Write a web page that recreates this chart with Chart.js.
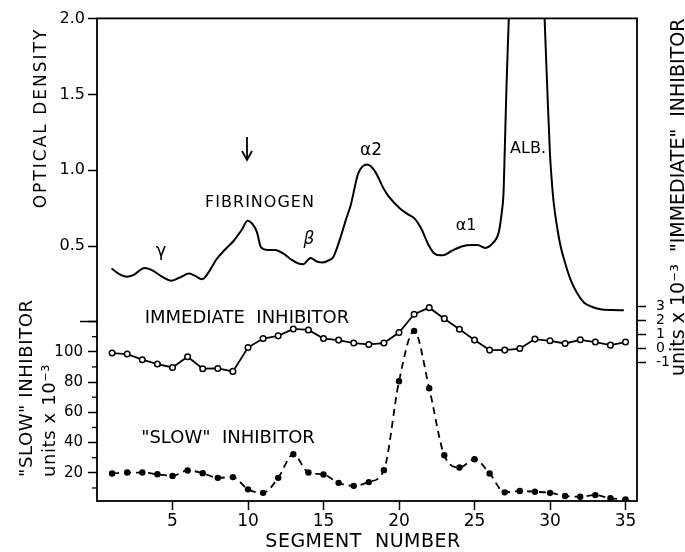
<!DOCTYPE html>
<html><head><meta charset="utf-8">
<script src="https://cdn.jsdelivr.net/npm/chart.js@4/dist/chart.umd.min.js"></script>
<style>html,body{margin:0;padding:0;background:#fff}</style>
</head><body>
<canvas id="c" width="685" height="552"></canvas>
<script>
// ---- data ----
const segments = [1,2,3,4,5,6,7,8,9,10,11,12,13,14,15,16,17,18,19,20,21,22,23,24,25,26,27,28,29,30,31,32,33,34,35];
const immediateInhibitor = [-0.31,-0.38,-0.78,-1.09,-1.33,-0.57,-1.42,-1.40,-1.61,0.08,0.72,0.91,1.40,1.33,0.72,0.61,0.40,0.30,0.40,1.14,2.44,2.91,2.13,1.38,0.61,-0.10,-0.10,0.01,0.68,0.56,0.37,0.63,0.47,0.25,0.47];
const slowInhibitor = [19.6,20.2,20.2,19.1,18.0,21.6,19.8,16.7,17.2,9.1,6.8,16.7,32.3,20.2,18.9,13.4,11.4,13.9,21.8,80.5,113.8,75.9,31.6,23.5,29.0,19.6,7.1,8.0,7.5,6.8,4.7,4.2,5.3,3.2,2.5];
const odSegment = [0.96,1.5,1.95,2.4,3.15,3.7,4.3,4.95,5.5,6.1,6.5,6.95,7.4,7.9,8.5,9.07,9.6,9.97,10.3,10.6,10.85,11.28,11.8,12.4,12.9,13.3,13.65,14.14,14.55,14.95,15.4,15.65,16.1,16.5,16.8,17.3,17.9,18.4,18.95,19.3,20.1,20.6,21.05,21.5,21.95,22.3,22.7,23.0,23.45,24.2,24.8,25.2,25.7,26.25,26.6,26.8,26.92,27.0,27.12,27.27,27.5,28.45,29.4,29.64,29.81,29.99,30.1,30.25,30.48,30.7,31.0,31.36,31.8,32.24,32.8,33.34,34.1,34.89];
const opticalDensity = [0.354,0.315,0.30,0.31,0.357,0.34,0.30,0.273,0.295,0.32,0.305,0.282,0.33,0.413,0.48,0.538,0.61,0.668,0.645,0.59,0.495,0.476,0.475,0.448,0.41,0.388,0.382,0.423,0.40,0.393,0.41,0.43,0.55,0.68,0.77,0.98,1.039,0.995,0.885,0.83,0.745,0.71,0.68,0.61,0.51,0.456,0.441,0.443,0.467,0.50,0.508,0.508,0.489,0.525,0.59,0.72,0.85,1.12,1.56,2.0,2.7,4.5,2.7,2.0,1.56,1.12,0.95,0.78,0.62,0.50,0.39,0.28,0.19,0.13,0.10,0.085,0.08,0.079];
const segmentTicks = [5,10,15,20,25,30,35];
const odTicks = [0.5,1.0,1.5,2.0];
const slowTicks = [20,40,60,80,100,120];
const slowMinorTicks = [10,30,50,70,90,110];
const immTicks = [-1,0,1,2,3];

const FONT = '"DejaVu Sans", sans-serif';
const INK = '#000';

const odData = odSegment.map((x, i) => ({x, y: opticalDensity[i]}));
const immData = segments.map((x, i) => ({x, y: immediateInhibitor[i]}));
const slowData = segments.map((x, i) => ({x, y: slowInhibitor[i]}));

const tickGrid = {drawOnChartArea:false, drawTicks:true, tickLength:9, tickWidth:1.5, tickColor:INK};

// slow labels are padded with figure spaces to a common width, so left alignment equals right alignment
const slowFontSize = 15;
const slowLabelGap = 14; // distance from axis line to right edge of slow labels
function slowLabel(v) {
  if (v === 120) return '';
  const s = String(v);
  return '\u2007'.repeat(3 - s.length) + s;
}
function slowLabelWidth() {
  const c = document.createElement('canvas').getContext('2d');
  c.font = slowFontSize + 'px ' + FONT;
  return c.measureText('100').width;
}

const decor = {
  id: 'decor',
  afterDraw(chart) {
    const ctx = chart.ctx, ca = chart.chartArea;
    ctx.save();
    ctx.strokeStyle = INK; ctx.lineWidth = 1.8;
    ctx.strokeRect(ca.left, ca.top, ca.right - ca.left, ca.bottom - ca.top);
    // minor ticks on slow axis
    const ys = chart.scales.ySlow;
    ctx.lineWidth = 1.3;
    slowMinorTicks.forEach(v => {
      const y = ys.getPixelForValue(v);
      ctx.beginPath(); ctx.moveTo(ca.left - 5, y); ctx.lineTo(ca.left, y); ctx.stroke();
    });
    const yTop = ys.getPixelForValue(slowTicks[slowTicks.length - 1]);
    ctx.lineWidth = 1.5;
    ctx.beginPath(); ctx.moveTo(ca.left - 17, yTop); ctx.lineTo(ca.left, yTop); ctx.stroke();
    // arrow
    ctx.lineWidth = 1.8;
    ctx.beginPath(); ctx.moveTo(247, 137); ctx.lineTo(247, 160); ctx.stroke();
    ctx.beginPath(); ctx.moveTo(242, 151); ctx.lineTo(247, 160); ctx.lineTo(252, 151); ctx.stroke();

    ctx.fillStyle = INK;
    function txt(s, x, y, size, o) {
      o = o || {};
      ctx.save();
      ctx.font = (o.italic ? 'italic ' : '') + size + 'px ' + FONT;
      ctx.textAlign = o.align || 'center';
      ctx.textBaseline = 'alphabetic';
      try { ctx.letterSpacing = (o.sp || 0) + 'px'; } catch (e) {}
      ctx.translate(x, y);
      if (o.rot) ctx.rotate(-Math.PI / 2);
      ctx.fillText(s, 0, 0);
      ctx.restore();
    }
    // axis titles
    txt('OPTICAL DENSITY', 46, 118, 17, {rot:true, sp:2});
    txt('"SLOW" INHIBITOR', 32, 477, 18, {rot:true, align:'left', sp:0.6});
    txt('units x 10\u207B\u00B3', 55, 477, 18, {rot:true, align:'left', sp:0.6});
    txt('units x 10\u207B\u00B3  "IMMEDIATE"  INHIBITOR', 684, 376, 19, {rot:true, align:'left', sp:0});
    txt('SEGMENT  NUMBER', 363, 547, 19, {sp:0.5});
    // annotations
    txt('\u03B3', 161, 256, 18);
    txt('FIBRINOGEN', 260, 207, 16, {sp:1});
    txt('\u03B2', 309, 244, 17, {italic:true});
    txt('\u03B12', 371, 155, 17);
    txt('\u03B11', 466, 230, 16);
    txt('ALB.', 528, 153, 16);
    txt('IMMEDIATE  INHIBITOR', 247, 323, 18);
    txt('"SLOW"  INHIBITOR', 228, 443, 18);
    ctx.restore();
  }
};

new Chart(document.getElementById('c'), {
  type: 'line',
  data: {
    datasets: [
      {label:'Optical density', data: odData, yAxisID:'yOD', borderColor:INK, borderWidth:2, pointRadius:0, cubicInterpolationMode:'monotone', fill:false},
      {label:'Immediate inhibitor', data: immData, yAxisID:'yImm', borderColor:INK, borderWidth:1.8, tension:0, pointRadius:2.8, pointBorderWidth:1.5, pointBackgroundColor:'#fff', pointBorderColor:INK, fill:false},
      {label:'Slow inhibitor', data: slowData, yAxisID:'ySlow', borderColor:INK, borderWidth:1.8, borderDash:[7,5], cubicInterpolationMode:'monotone', pointRadius:3.2, pointBorderWidth:0, pointBackgroundColor:INK, fill:false}
    ]
  },
  options: {
    responsive:false, animation:false, devicePixelRatio:1,
    layout:{padding:{top:16, left:0, right:0, bottom:0}},
    plugins:{legend:{display:false}, tooltip:{enabled:false}},
    scales:{
      x:{type:'linear', position:'bottom', min:0, max:35.76,
         afterBuildTicks: s => { s.ticks = segmentTicks.map(v => ({value:v})); },
         afterFit: s => { s.height = 51; },
         ticks:{autoSkip:false, maxRotation:0, color:INK, padding:1, font:{family:FONT, size:17}, callback: v => String(v)},
         grid: tickGrid, border:{display:false}},
      yOD:{type:'linear', position:'left', weight:1, min:-1.177, max:2.0,
         afterBuildTicks: s => { s.ticks = odTicks.map(v => ({value:v})); },
         afterFit: s => { s.width = 97; },
         ticks:{autoSkip:false, color:INK, padding:3, font:{family:FONT, size:16}, callback: v => v.toFixed(1)},
         grid: tickGrid, border:{display:false}},
      ySlow:{type:'linear', position:'left', weight:0, min:1.4, max:320.3,
         afterBuildTicks: s => { s.ticks = slowTicks.map(v => ({value:v})); },
         afterFit: s => { s.width = 0; },
         ticks:{autoSkip:false, color:INK, mirror:true, crossAlign:'near', padding: -(slowLabelGap + slowLabelWidth()),
                font:{family:FONT, size:slowFontSize}, callback: v => slowLabel(v)},
         grid: tickGrid, border:{display:false}},
      yImm:{type:'linear', position:'right', min:-10.8, max:23.42,
         afterBuildTicks: s => { s.ticks = immTicks.map(v => ({value:v})); },
         afterFit: s => { s.width = 48; },
         ticks:{autoSkip:false, color:INK, padding:10, font:{family:FONT, size:14}, callback: v => String(v)},
         grid: tickGrid, border:{display:false}}
    }
  },
  plugins:[decor]
});
</script>
</body></html>
